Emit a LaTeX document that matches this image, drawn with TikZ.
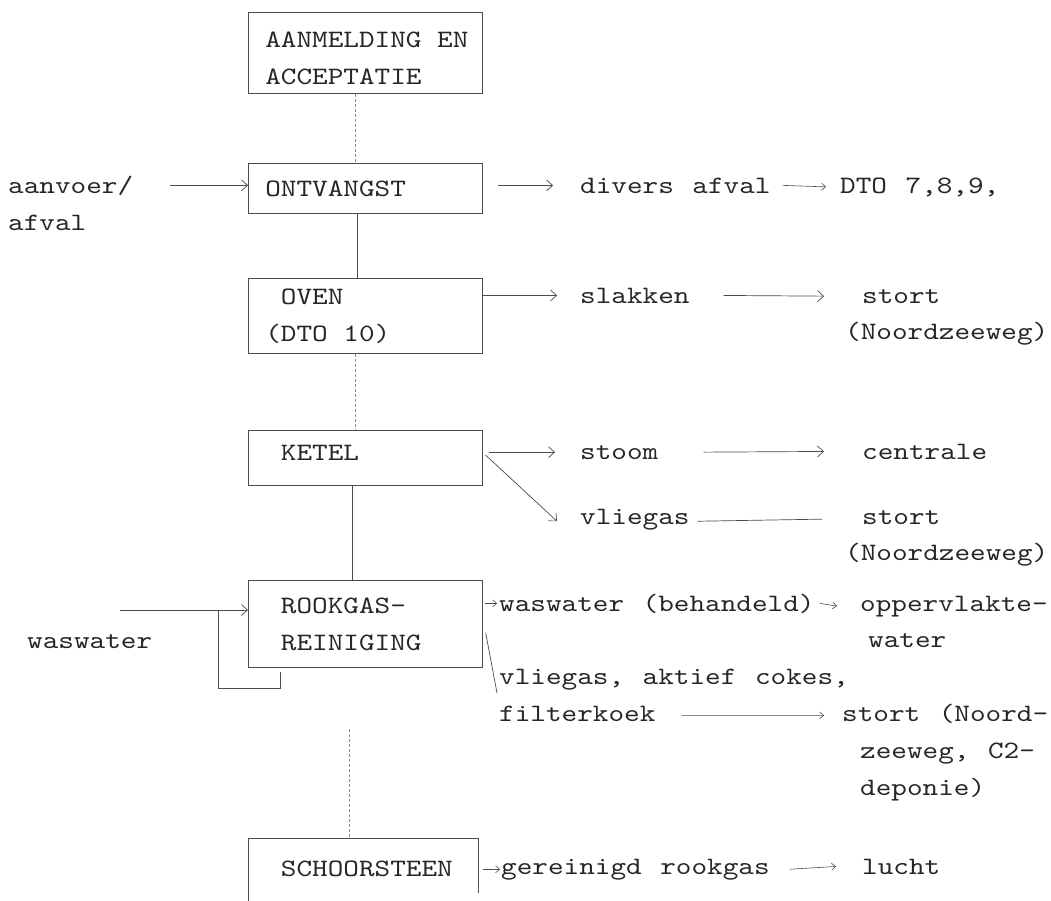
\documentclass[tikz,border=0pt]{standalone}
\usepackage{fontspec}
\setmonofont{lmmono10-regular.otf}[FakeStretch=1.19, WordSpace={1.19,0,0}]
\usetikzlibrary{arrows.meta,calc}
\newcommand\tfnt{\ttfamily\fontsize{25}{37}\selectfont}
\newcommand\indcol{\hspace*{0.625em}}
\newcommand\tsp{\hspace{0.625em}}
\tikzset{
  txt/.style={anchor=base west, inner sep=0pt, font=\tfnt, text=black!85},
  procbox/.style={draw=black!70, line width=0.7pt, anchor=north west,
    minimum width=234pt, text width=200pt, inner xsep=17pt, inner ysep=0pt,
    align=left, font=\tfnt, text=black!85},
  arr/.style={draw=black!70, line width=0.7pt,
    -{Straight Barb[length=6pt,width=11pt,line width=0.7pt]}},
  smallarr/.style={draw=black!70, line width=0.6pt,
    -{Straight Barb[length=4pt,width=7pt,line width=0.6pt]}},
  ln/.style={draw=black!70, line width=0.7pt},
  faint/.style={draw=black!45, line width=0.6pt, densely dashed},
}
\begin{document}
\begin{tikzpicture}[x=1pt,y=-1pt]
\useasboundingbox[fill=white] (0,0) rectangle (1051,900);

% process boxes
\node[procbox, minimum height=81pt] (aanm) at (248,12) {\rule{0pt}{27pt}\mbox{AANMELDING\tsp EN}\\ACCEPTATIE};
\node[procbox, minimum height=50pt] (ontv) at (248,163) {ONTVANGST};
\node[procbox, minimum height=75pt] (oven) at (248,278) {\indcol OVEN\\\mbox{(DTO\tsp 10)}};
\node[procbox, minimum height=55pt] (ketel) at (248,430) {\indcol KETEL\rule[-10pt]{0pt}{10pt}};
\node[procbox, minimum height=87pt] (rook) at (248,580) {\indcol ROOKGAS-\\\indcol REINIGING};
\node[procbox, draw=none, text width=196pt, minimum width=230pt, minimum height=60pt] (sch) at (248,838) {\indcol SCHOORSTEEN};
\draw[ln] ([yshift=-6pt]sch.south west) |- (sch.north east) -- ([yshift=6pt]sch.south east);

% left texts
\node[txt] (aanv) at (8,193) {aanvoer/};
\node[txt] (afv) at (8,230) {afval};
\node[txt] (wasl) at (27,648) {waswater};

% right texts
\node[txt] (divers) at (580,193) {divers afval};
\node[txt] (dto) at (840,193) {DTO 7,8,9,};
\node[txt] (slak) at (580,303) {slakken};
\node[txt] (stort1) at (862,303) {stort};
\node[txt] (nz1) at (845,339) {(Noordzeeweg)};
\node[txt] (stoom) at (580,459) {stoom};
\node[txt] (centr) at (862,459) {centrale};
\node[txt] (vlieg1) at (580,524) {vliegas};
\node[txt] (stort2) at (862,524) {stort};
\node[txt] (nz2) at (845,560) {(Noordzeeweg)};
\node[txt] (wasb) at (499,611) {waswater (behandeld)};
\node[txt] (opp) at (860,611) {oppervlakte-};
\node[txt] (water) at (868,647) {water};
\node[txt] (vlieg2) at (499,684) {vliegas, aktief cokes,};
\node[txt] (filt) at (499,721) {filterkoek};
\node[txt] (stort3) at (842,721) {stort (Noord-};
\node[txt] (zee) at (860,758) {zeeweg, C2-};
\node[txt] (dep) at (860,795) {deponie)};
\node[txt] (gerein) at (501,874) {gereinigd rookgas};
\node[txt] (lucht) at (862,874) {lucht};

% vertical connectors
\draw[faint] ($(aanm.south west)+(107,0)$) -- ($(ontv.north west)+(107,0)$);
\draw[ln] ($(ontv.south west)+(109,0)$) -- ($(oven.north west)+(109,0)$);
\draw[faint] ($(oven.south west)+(107,0)$) -- ($(ketel.north west)+(107,0)$);
\draw[ln] ($(ketel.south west)+(104,0)$) -- ($(rook.north west)+(104,0)$);
\draw[faint] ($(rook.south west)+(101,61)$) -- ($(sch.north west)+(101,0)$);

% inputs
\draw[arr] ([xshift=37pt]aanv.east) -- (aanv.east -| ontv.west);
\coordinate (winl) at (120,610);
\draw[arr] (winl) -- (winl -| rook.west);
\draw[ln] ($(winl)+(98,0)$) -- ++(0,78) -- ++(62,0) -- ++(0,-16);

% outputs
\draw[arr] ($(ontv.east |- divers.center)+(15,0)$) -- ($(divers.west)+(-27,0)$);
\draw[smallarr] ($(divers.east)+(12,0)$) -- ($(dto.west)+(-14,0)$);
\draw[arr] (oven.east |- slak.center) -- ($(slak.west)+(-23,0)$);
\draw[arr] ($(slak.east)+(34,0)$) -- ($(stort1.west)+(-38,0)$);
\draw[arr] ($(ketel.east |- stoom.center)+(6,0)$) -- ($(stoom.west)+(-25,0)$);
\draw[arr] ($(stoom.east)+(45,0)$) -- ($(centr.west)+(-38,0)$);
\draw[arr] ($(ketel.east |- stoom.center)+(3,3)$) -- ($(vlieg1.west)+(-23,2)$);
\draw[ln] ($(vlieg1.east)+(8,2)$) -- ($(stort2.west)+(-40,2)$);
\draw[smallarr] ($(rook.east |- wasb.center)+(2,0)$) -- ($(wasb.west)+(-2,0)$);
\draw[smallarr] ($(wasb.east)+(5,0)$) -- ($(opp.west)+(-23,0)$);
\coordinate (rdiag) at (497,693);
\draw[ln] ($(rook.east)+(3,9)$) -- (rdiag);
\draw[smallarr] ($(filt.east)+(26,2)$) -- ($(stort3.west)+(-18,2)$);
\draw[smallarr] ($(sch.east |- gerein.center)+(4,0)$) -- ($(gerein.west)+(-1,0)$);
\draw[smallarr] ($(gerein.east)+(20,0)$) -- ($(lucht.west)+(-26,0)$);
\end{tikzpicture}
\end{document}
